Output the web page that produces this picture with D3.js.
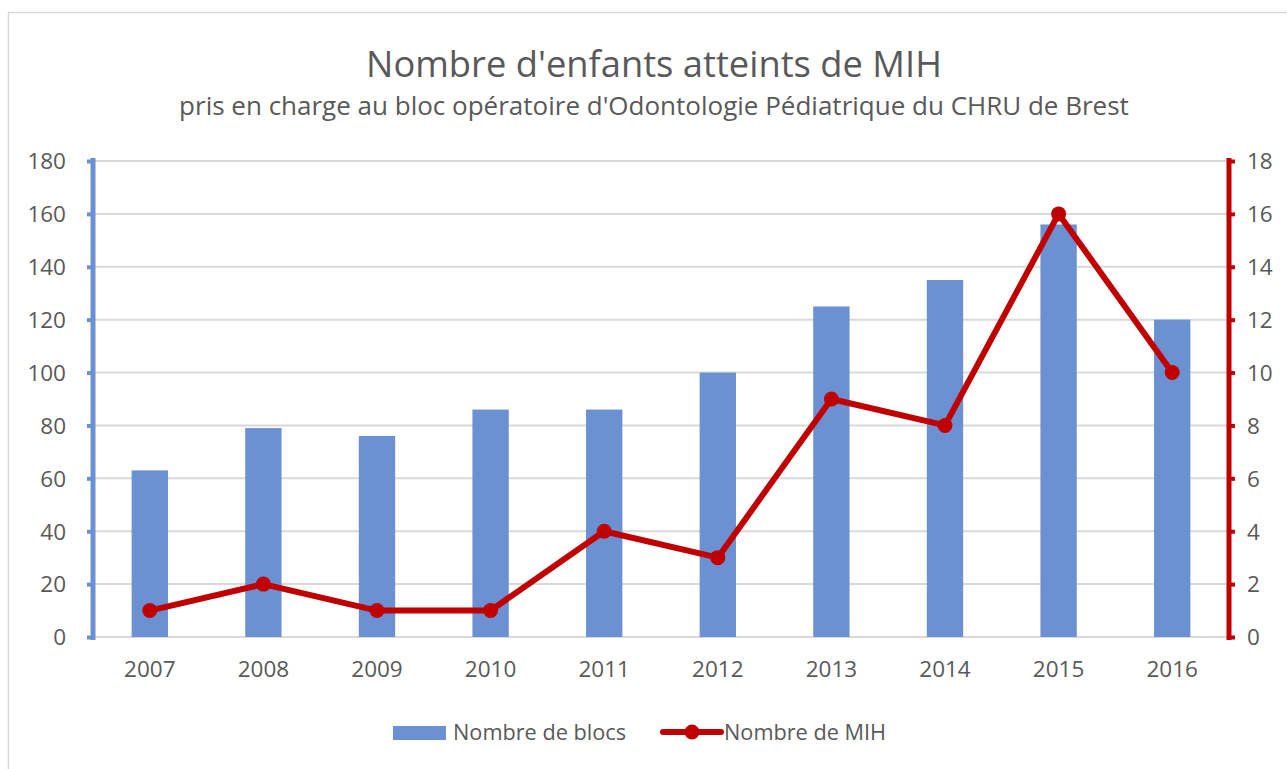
<!DOCTYPE html>
<html>
<head>
<meta charset="utf-8">
<script src="https://cdn.jsdelivr.net/npm/d3@7"></script>
<style>
  html, body { margin: 0; padding: 0; background: #fff; }
  svg { display: block; }
  text { font-family: "Open Sans", "Noto Sans", sans-serif; fill: #595959; }
</style>
</head>
<body>
<svg id="chart" width="1287" height="769"></svg>
<script>
// Years shown on the category axis
const years = ["2007", "2008", "2009", "2010", "2011", "2012", "2013", "2014", "2015", "2016"];
// Number of operating-room sessions per year (left axis)
const blocs = [63, 79, 76, 86, 86, 100, 125, 135, 156, 120];
// Number of MIH children per year (right axis)
const mih = [1, 2, 1, 1, 4, 3, 9, 8, 16, 10];
// Axis tick values
const leftTicks = [0, 20, 40, 60, 80, 100, 120, 140, 160, 180];
const rightTicks = [0, 2, 4, 6, 8, 10, 12, 14, 16, 18];

const title = "Nombre d'enfants atteints de MIH";
const subtitle = "pris en charge au bloc opératoire d'Odontologie Pédiatrique du CHRU de Brest";
const seriesNames = ["Nombre de blocs", "Nombre de MIH"];

const barColor = "#6b91d2";
const lineColor = "#c00000";
const gridColor = "#d9d9d9";

const svg = d3.select("#chart");

// outer chart frame
svg.append("path")
  .attr("d", "M8.5,769 L8.5,12.5 L1287,12.5")
  .attr("fill", "none")
  .attr("stroke", "#d9d9d9")
  .attr("stroke-width", 1.5);

const plot = { left: 93, right: 1229, top: 161, bottom: 637 };

const x = d3.scaleBand().domain(years).range([plot.left, plot.right]).paddingInner(0.68).paddingOuter(0.34);
const yL = d3.scaleLinear().domain([0, 180]).range([plot.bottom, plot.top]);
const yR = d3.scaleLinear().domain([0, 18]).range([plot.bottom, plot.top]);

// title + subtitle
svg.append("text").attr("x", 654).attr("y", 77).attr("text-anchor", "middle")
  .style("font-size", "36.3px").text(title);
svg.append("text").attr("x", 654).attr("y", 115).attr("text-anchor", "middle")
  .style("font-size", "26px").text(subtitle);

// horizontal gridlines
svg.append("g").selectAll("line").data(leftTicks).join("line")
  .attr("x1", plot.left).attr("x2", plot.right)
  .attr("y1", d => yL(d)).attr("y2", d => yL(d))
  .attr("stroke", gridColor).attr("stroke-width", 2);

// bars
svg.append("g").selectAll("rect").data(years).join("rect")
  .attr("x", d => x(d))
  .attr("width", x.bandwidth())
  .attr("y", (d, i) => yL(blocs[i]))
  .attr("height", (d, i) => yL(0) - yL(blocs[i]))
  .attr("fill", barColor);

// left axis
const leftAxis = svg.append("g").attr("transform", `translate(${plot.left},0)`)
  .call(d3.axisLeft(yL).tickValues(leftTicks).tickSize(6).tickPadding(21));
leftAxis.select(".domain").attr("stroke", barColor).attr("stroke-width", 5)
  .attr("d", `M0,${plot.top - 3}V${plot.bottom + 3}`);
leftAxis.selectAll(".tick line").attr("stroke", barColor).attr("stroke-width", 4);
leftAxis.selectAll(".tick text").style("font-size", "22.5px").attr("fill", "#595959").attr("dy", "0.35em");

// right axis
const rightAxis = svg.append("g").attr("transform", `translate(${plot.right},0)`)
  .call(d3.axisRight(yR).tickValues(rightTicks).tickSize(6).tickPadding(12));
rightAxis.select(".domain").attr("stroke", lineColor).attr("stroke-width", 5)
  .attr("d", `M0,${plot.top - 3}V${plot.bottom + 3}`);
rightAxis.selectAll(".tick line").attr("stroke", lineColor).attr("stroke-width", 4);
rightAxis.selectAll(".tick text").style("font-size", "22.5px").attr("fill", "#595959").attr("dy", "0.35em");

// category labels
const bottomAxis = svg.append("g").attr("transform", `translate(0,${plot.bottom})`)
  .call(d3.axisBottom(x).tickSize(0).tickPadding(24));
bottomAxis.select(".domain").remove();
bottomAxis.selectAll(".tick text").style("font-size", "22.5px").attr("fill", "#595959");

// MIH line
const cx = (d, i) => x(years[i]) + x.bandwidth() / 2;
svg.append("path").datum(mih)
  .attr("fill", "none").attr("stroke", lineColor).attr("stroke-width", 6)
  .attr("stroke-linejoin", "round")
  .attr("d", d3.line().x(cx).y(d => yR(d)));
svg.append("g").selectAll("circle").data(mih).join("circle")
  .attr("cx", cx).attr("cy", d => yR(d)).attr("r", 7.5).attr("fill", lineColor);

// legend
const lg = svg.append("g");
lg.append("rect").attr("x", 393).attr("y", 726).attr("width", 53).attr("height", 14).attr("fill", barColor);
lg.append("text").attr("x", 453).attr("y", 740).style("font-size", "21.7px").text(seriesNames[0]);
lg.append("line").attr("x1", 663).attr("x2", 721).attr("y1", 732).attr("y2", 732)
  .attr("stroke", lineColor).attr("stroke-width", 6).attr("stroke-linecap", "round");
lg.append("circle").attr("cx", 692).attr("cy", 732).attr("r", 7.5).attr("fill", lineColor);
lg.append("text").attr("x", 724).attr("y", 740).style("font-size", "21.7px").text(seriesNames[1]);
</script>
</body>
</html>
